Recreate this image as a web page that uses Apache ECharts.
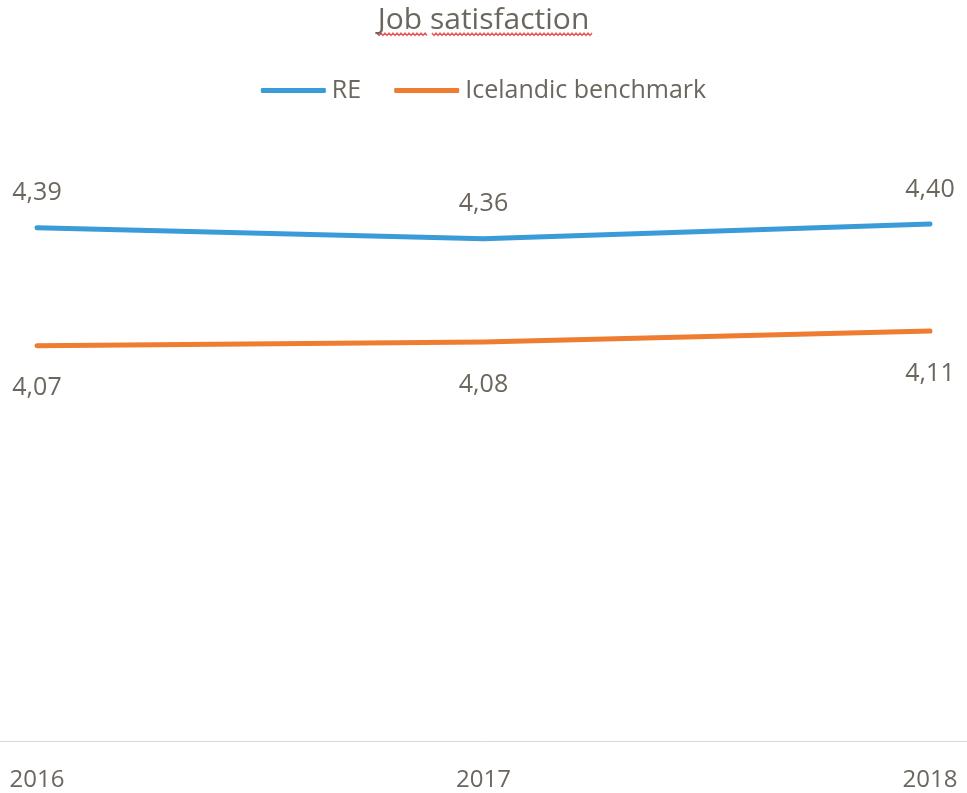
<!DOCTYPE html>
<html>
<head>
<meta charset="utf-8">
<script src="https://cdn.jsdelivr.net/npm/echarts@6/dist/echarts.min.js"></script>
<style>
html,body{margin:0;padding:0;background:#fff;}
#chart{width:967px;height:793px;}
</style>
</head>
<body>
<div id="chart"></div>
<script>
const years = ['2016', '2017', '2018'];
const reValues = [4.39, 4.36, 4.40];
const benchmarkValues = [4.07, 4.08, 4.11];
const seriesNames = ['RE', 'Icelandic benchmark'];
const titleText = 'Job satisfaction';

const textColor = '#6b675e';
const font = '"Open Sans", sans-serif';
const blue = '#3a9bd8';
const orange = '#ee7d31';

function fmt(p) { return p.value.toFixed(2).replace('.', ','); }

function squiggle(x0, x1, y) {
  const pts = [];
  let up = true;
  for (let x = x0; x <= x1; x += 2) { pts.push([x, up ? y : y + 2.5]); up = !up; }
  return pts;
}

const chart = echarts.init(document.getElementById('chart'));
chart.setOption({
  backgroundColor: '#fff',
  animation: false,
  title: {
    text: titleText, left: 'center', top: 0,
    textStyle: { fontFamily: font, fontSize: 30, fontWeight: 'normal', color: textColor }
  },
  graphic: [
    { type: 'polyline', shape: { points: squiggle(377, 427, 33) }, style: { stroke: '#e25a5a', lineWidth: 1.4, fill: null } },
    { type: 'polyline', shape: { points: squiggle(432, 593, 33) }, style: { stroke: '#e25a5a', lineWidth: 1.4, fill: null } }
  ],
  legend: {
    top: 73, left: 'center',
    itemWidth: 65, itemHeight: 5, itemGap: 33,
    icon: 'roundRect',
    textStyle: { fontFamily: font, fontSize: 25, color: textColor, padding: [0, 0, 0, 1] },
    data: seriesNames
  },
  grid: [
    { left: 37, right: 37, top: 187, bottom: 52 },
    { left: 0, right: 0, top: 187, bottom: 52 }
  ],
  xAxis: [
    {
      type: 'category', gridIndex: 0, data: years, boundaryGap: false,
      axisLine: { show: false }, axisTick: { show: false }, splitLine: { show: false },
      axisLabel: { fontFamily: font, fontSize: 24, color: textColor, margin: 27 }
    },
    {
      type: 'value', gridIndex: 1, min: 0, max: 1,
      axisLine: { show: true, onZero: false, lineStyle: { color: '#d9d9d9', width: 1 } },
      axisTick: { show: false }, axisLabel: { show: false }, splitLine: { show: false }
    }
  ],
  yAxis: [
    { type: 'value', gridIndex: 0, min: 3, max: 4.5, show: false, splitLine: { show: false } },
    { type: 'value', gridIndex: 1, min: 0, max: 1, show: false, splitLine: { show: false } }
  ],
  series: [
    {
      name: seriesNames[0], type: 'line', data: reValues,
      xAxisIndex: 0, yAxisIndex: 0,
      symbol: 'circle', symbolSize: 0.1, showSymbol: true,
      itemStyle: { color: blue },
      lineStyle: { color: blue, width: 5, cap: 'round', join: 'round' },
      label: { show: true, position: 'top', distance: 22, formatter: fmt,
        fontFamily: font, fontSize: 25, color: textColor }
    },
    {
      name: seriesNames[1], type: 'line', data: benchmarkValues,
      xAxisIndex: 0, yAxisIndex: 0,
      symbol: 'circle', symbolSize: 0.1, showSymbol: true,
      itemStyle: { color: orange },
      lineStyle: { color: orange, width: 5, cap: 'round', join: 'round' },
      label: { show: true, position: 'bottom', distance: 30, formatter: fmt,
        fontFamily: font, fontSize: 25, color: textColor }
    }
  ]
});
</script>
</body>
</html>
